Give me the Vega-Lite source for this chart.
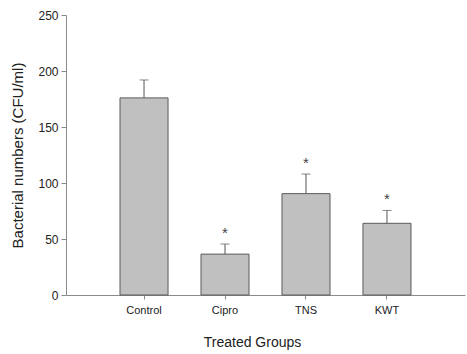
{
  "$schema": "https://vega.github.io/schema/vega-lite/v6.json",
  "autosize": "none",
  "width": 399,
  "height": 280,
  "padding": {"left": 66, "top": 15, "right": 2, "bottom": 59},
  "background": "white",
  "config": {
    "view": {"stroke": null},
    "axis": {"grid": false, "domainColor": "#8a8a8a", "tickColor": "#8a8a8a", "labelColor": "#222", "titleColor": "#222", "labelFont": "Liberation Sans", "titleFont": "Liberation Sans", "titleFontWeight": "normal"}
  },
  "data": {
    "values": [
      {"group": "Control", "mean": 176, "err": 192, "star": ""},
      {"group": "Cipro", "mean": 36.5, "err": 45.5, "star": "*"},
      {"group": "TNS", "mean": 90.5, "err": 108, "star": "*"},
      {"group": "KWT", "mean": 64, "err": 75.5, "star": "*"}
    ]
  },
  "encoding": {
    "x": {
      "field": "group", "type": "nominal", "sort": null,
      "scale": {"paddingInner": 0.407, "paddingOuter": 0.667},
      "axis": {"title": "Treated Groups", "labelAngle": 0, "labelFontSize": 11, "labelPadding": 5, "tickSize": 4, "titleFontSize": 14, "titlePadding": 20, "titleX": 186}
    }
  },
  "layer": [
    {
      "mark": {"type": "rule", "color": "#555"},
      "encoding": {
        "y": {"field": "mean", "type": "quantitative"},
        "y2": {"field": "err"}
      }
    },
    {
      "mark": {"type": "tick", "color": "#555", "size": 9, "thickness": 1},
      "encoding": {
        "y": {"field": "err", "type": "quantitative"}
      }
    },
    {
      "mark": {"type": "bar", "fill": "#c0c0c0", "stroke": "#5a5a5a", "strokeWidth": 1},
      "encoding": {
        "y": {
          "field": "mean", "type": "quantitative",
          "scale": {"domain": [0, 250], "nice": false},
          "axis": {"title": "Bacterial numbers (CFU/ml)", "values": [0, 50, 100, 150, 200, 250], "labelFontSize": 12, "labelPadding": 3, "tickSize": 5, "titleFontSize": 15, "titlePadding": 12}
        }
      }
    },
    {
      "mark": {"type": "text", "fontSize": 15, "color": "#444", "baseline": "middle", "dy": -11, "font": "Liberation Sans"},
      "encoding": {
        "y": {"field": "err", "type": "quantitative"},
        "text": {"field": "star"}
      }
    }
  ]
}
